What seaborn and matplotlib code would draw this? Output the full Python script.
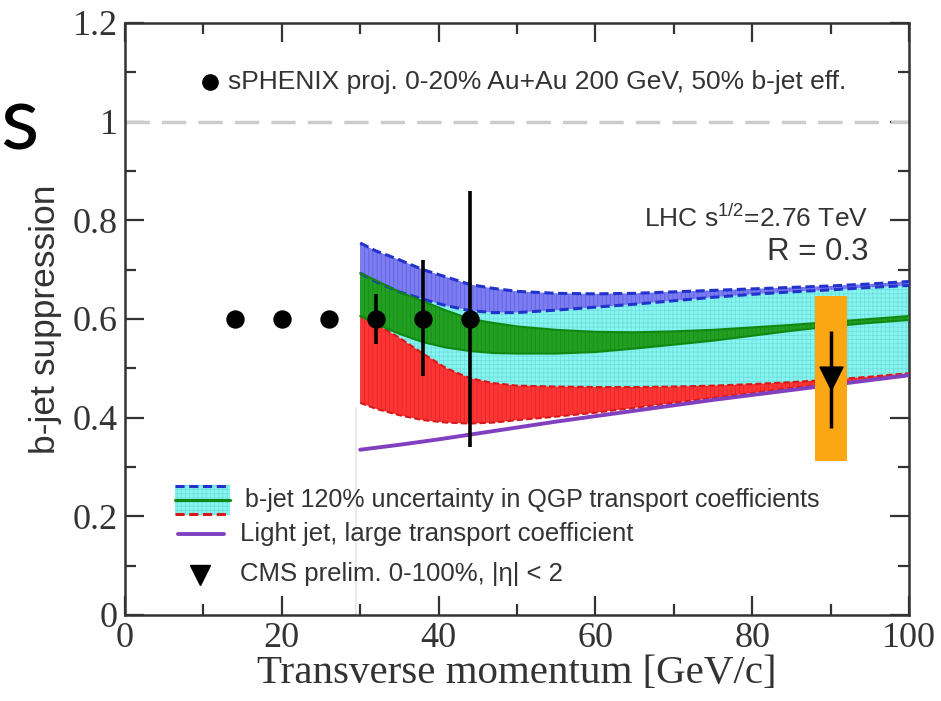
import matplotlib
matplotlib.use("Agg")
import matplotlib.pyplot as plt
from matplotlib.lines import Line2D
from matplotlib.patches import Rectangle
from matplotlib.ticker import MultipleLocator
import pandas as pd
import seaborn as sns

# ---- transport-model bands vs. jet pT [GeV/c] ----
pt_band = [30, 32, 35, 38, 41, 44, 47, 50, 55, 60, 65, 70, 75, 80, 85, 90, 95, 100]
blue_hi = [0.754, 0.738, 0.720, 0.700, 0.685, 0.670, 0.662, 0.656, 0.652, 0.651,
           0.652, 0.655, 0.658, 0.661, 0.664, 0.667, 0.671, 0.676]
blue_lo = [0.693, 0.676, 0.655, 0.640, 0.627, 0.617, 0.613, 0.613, 0.618, 0.624,
           0.630, 0.637, 0.644, 0.650, 0.655, 0.659, 0.664, 0.668]
green_hi = [0.693, 0.678, 0.655, 0.636, 0.617, 0.600, 0.592, 0.585, 0.578, 0.574,
            0.573, 0.575, 0.578, 0.583, 0.588, 0.594, 0.600, 0.606]
green_lo = [0.606, 0.590, 0.570, 0.553, 0.542, 0.535, 0.531, 0.530, 0.530, 0.533,
            0.540, 0.548, 0.556, 0.566, 0.576, 0.585, 0.592, 0.598]
red_hi = [0.606, 0.590, 0.562, 0.530, 0.500, 0.480, 0.470, 0.465, 0.463, 0.462,
          0.462, 0.463, 0.465, 0.468, 0.472, 0.477, 0.483, 0.490]
red_lo = [0.430, 0.418, 0.405, 0.395, 0.390, 0.388, 0.390, 0.395, 0.402, 0.410,
          0.420, 0.430, 0.440, 0.450, 0.460, 0.468, 0.476, 0.484]

# ---- light jet, large transport coefficient ----
pt_light = [30, 35, 40, 45, 50, 55, 60, 65, 70, 75, 80, 85, 90, 95, 100]
light_raa = [0.335, 0.345, 0.356, 0.368, 0.380, 0.392, 0.403, 0.414, 0.425,
             0.436, 0.446, 0.456, 0.466, 0.476, 0.486]

# ---- sPHENIX projection ----
sphenix_pt = [14, 20, 26, 32, 38, 44]
sphenix_val = [0.6, 0.6, 0.6, 0.6, 0.6, 0.6]
sphenix_err_lo = [0.0, 0.0, 0.0, 0.05, 0.115, 0.26]
sphenix_err_hi = [0.0, 0.0, 0.0, 0.05, 0.12, 0.26]

# ---- CMS preliminary ----
cms_pt = [90]
cms_val = [0.48]
cms_stat_lo = [0.10]
cms_stat_hi = [0.096]
cms_sys_lo = [0.313]
cms_sys_hi = [0.646]
cms_sys_width = 4.1

C_BLUE, C_BLUE_EDGE = "#7c7cf4", "#2233cc"
C_GREEN, C_GREEN_EDGE = "#22a022", "#118811"
C_RED, C_RED_EDGE = "#ff3535", "#d81818"
C_CYAN = "#86f6f2"
C_PURPLE = "#8040c0"
C_ORANGE = "#fba714"
C_TEXT = "#333333"

sns.set_theme(style="ticks")
plt.rcParams["font.family"] = ["Liberation Sans", "DejaVu Sans"]
plt.rcParams["mathtext.fontset"] = "custom"
plt.rcParams["mathtext.rm"] = "Liberation Sans"
plt.rcParams["mathtext.it"] = "Liberation Sans"
plt.rcParams["hatch.linewidth"] = 0.6

fig = plt.figure(figsize=(9.41, 7.01), dpi=100)
ax = fig.add_axes([0.1328, 0.1227, 0.8332, 0.8445])

bands = pd.DataFrame({"pt": pt_band, "blue_hi": blue_hi, "blue_lo": blue_lo,
                      "green_hi": green_hi, "green_lo": green_lo,
                      "red_hi": red_hi, "red_lo": red_lo})

# reference line at unity
ax.axhline(1.0, color="#cccccc", lw=2.5, dashes=(7, 3.5), zorder=1)
# faint marker of the band threshold
ax.plot([29.5, 29.5], [0.0, 0.42], color="#e6e6e6", lw=1.2, zorder=1)

# overall uncertainty envelope
ax.fill_between(bands.pt, bands.red_hi, bands.blue_lo, facecolor=C_CYAN,
                edgecolor=(0.2, 0.6, 0.6, 0.25), hatch="++++", lw=0, zorder=2)
# individual bands
ax.fill_between(bands.pt, bands.red_lo, bands.red_hi, facecolor=C_RED,
                edgecolor=(0.5, 0.0, 0.0, 0.25), hatch="||||", lw=0, zorder=3)
ax.fill_between(bands.pt, bands.green_lo, bands.green_hi, facecolor=C_GREEN,
                edgecolor=(0.0, 0.3, 0.0, 0.25), hatch="||||", lw=0, zorder=3)
ax.fill_between(bands.pt, bands.blue_lo, bands.blue_hi, facecolor=C_BLUE,
                edgecolor=(0.1, 0.1, 0.5, 0.25), hatch="||||", lw=0, zorder=3)
for col in ("blue_hi", "blue_lo"):
    ax.plot(bands.pt, bands[col], color=C_BLUE_EDGE, lw=2.2, dashes=(3, 1.5), zorder=4)
for col in ("red_hi", "red_lo"):
    ax.plot(bands.pt, bands[col], color=C_RED_EDGE, lw=1.5, dashes=(3, 1.5), zorder=4)
for col in ("green_hi", "green_lo"):
    ax.plot(bands.pt, bands[col], color=C_GREEN_EDGE, lw=1.5, zorder=4)

# light jet curve
light = pd.DataFrame({"pt": pt_light, "raa": light_raa})
sns.lineplot(data=light, x="pt", y="raa", color=C_PURPLE, lw=2.8, ax=ax, zorder=5)

# CMS systematic box, statistical bar and point
ax.bar(cms_pt, [h - l for h, l in zip(cms_sys_hi, cms_sys_lo)], bottom=cms_sys_lo,
       width=cms_sys_width, color=C_ORANGE, lw=0, zorder=6)
ax.errorbar(cms_pt, cms_val, yerr=[cms_stat_lo, cms_stat_hi], fmt="none",
            ecolor="black", elinewidth=2.5, capsize=0, zorder=7)
cms = pd.DataFrame({"pt": cms_pt, "val": cms_val})
sns.scatterplot(data=cms, x="pt", y="val", marker="v", s=260, color="black",
                edgecolor="black", ax=ax, zorder=8)

# sPHENIX projection
ax.errorbar(sphenix_pt, sphenix_val, yerr=[sphenix_err_lo, sphenix_err_hi],
            fmt="none", ecolor="black", elinewidth=2.6, capsize=0, zorder=7)
sph = pd.DataFrame({"pt": sphenix_pt, "val": sphenix_val})
sns.scatterplot(data=sph, x="pt", y="val", marker="o", s=150, color="black",
                edgecolor="black", ax=ax, zorder=8)

# axes
ax.set_xlim(0, 100)
ax.set_ylim(0, 1.2)
ax.xaxis.set_minor_locator(MultipleLocator(10))
ax.yaxis.set_minor_locator(MultipleLocator(0.1))
ax.set_xticks([0, 20, 40, 60, 80, 100])
ax.set_xticklabels(["0", "20", "40", "60", "80", "100"])
ax.set_yticks([0, 0.2, 0.4, 0.6, 0.8, 1.0, 1.2])
ax.set_yticklabels(["0", "0.2", "0.4", "0.6", "0.8", "1", "1.2"])
ax.tick_params(which="both", direction="in", top=True, right=True,
               color=C_TEXT, width=1.6)
ax.tick_params(which="major", length=14, labelsize=26, pad=5)
ax.tick_params(which="minor", length=8)
for lab in ax.get_xticklabels() + ax.get_yticklabels():
    lab.set_family(["Liberation Serif", "DejaVu Serif"])
    lab.set_color(C_TEXT)
for sp in ax.spines.values():
    sp.set_color(C_TEXT)
    sp.set_linewidth(1.8)

ax.set_xlabel("Transverse momentum [GeV/c]", fontsize=29.5,
              family=["Liberation Serif", "DejaVu Serif"], color=C_TEXT, labelpad=0)
ax.set_ylabel("b-jet suppression", fontsize=25.5, color=C_TEXT, labelpad=8)

# annotations
ax.text(94.8, 0.786, "LHC s$^{1/2}$=2.76 TeV", ha="right", va="baseline",
        fontsize=19, color=C_TEXT)
ax.text(94.8, 0.72, "R = 0.3", ha="right", va="baseline", fontsize=22.5, color=C_TEXT)

# legend: sPHENIX
T = ax.transAxes
ax.add_line(Line2D([0.1084], [0.9003], marker="o", ms=11, color="black", transform=T))
ax.text(0.1314, 0.9003, "sPHENIX proj. 0-20% Au+Au 200 GeV, 50% b-jet eff.",
        transform=T, va="center", fontsize=19, color=C_TEXT)

# legend: model band, light jet, CMS
x0, x1 = 0.0638, 0.1339
ax.add_patch(Rectangle((x0, 0.1689), x1 - x0, 0.2196 - 0.1689, transform=T,
                       facecolor=C_CYAN, edgecolor=(0.2, 0.6, 0.6, 0.25),
                       hatch="++++", lw=0))
ax.add_line(Line2D([x0, x1], [0.2180, 0.2180], color=C_BLUE_EDGE, lw=2.2,
                   dashes=(3, 1.5), transform=T))
ax.add_line(Line2D([x0, x1], [0.1943, 0.1943], color=C_GREEN_EDGE, lw=2.2, transform=T))
ax.add_line(Line2D([x0, x1], [0.1705, 0.1705], color=C_RED_EDGE, lw=2.2,
                   dashes=(3, 1.5), transform=T))
ax.text(0.1531, 0.1943, "b-jet 120% uncertainty in QGP transport coefficients",
        transform=T, va="center", fontsize=18, color=C_TEXT)

ax.add_line(Line2D([0.0676, 0.1263], [0.1368, 0.1368], color=C_PURPLE, lw=2.8, transform=T))
ax.text(0.1467, 0.1368, "Light jet, large transport coefficient",
        transform=T, va="center", fontsize=18.5, color=C_TEXT)

ax.add_line(Line2D([0.0957], [0.0676], marker="v", ms=15, color="black", transform=T))
ax.text(0.1467, 0.0700, "CMS prelim. 0-100%, |\u03b7| < 2",
        transform=T, va="center", fontsize=18.5, color=C_TEXT)

# slide title fragment at the left edge
fig.text(0.0, 1 - 150 / 701, "s", fontsize=64, family=["Lato", "DejaVu Sans"],
         color="black", va="baseline", ha="left")

fig.savefig("out.png", dpi=100)
